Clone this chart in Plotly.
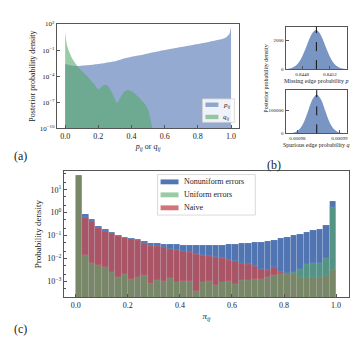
import numpy as np
import plotly.graph_objects as go

SERIF = "Liberation Serif"
BLUE = "#4c72b0"
GREEN = "#55a868"
RED = "#c44e52"
GRAY = "#555555"
W, H = 360, 337

# ---- panel (a): posterior densities of p_ij / q_ij (log scale)
a_p_x = [0.0, 0.03, 0.06, 0.1, 0.15, 0.2, 0.25, 0.3, 0.35, 0.4, 0.45, 0.5, 0.55,
         0.6, 0.65, 0.7, 0.75, 0.8, 0.85, 0.9, 0.95, 0.97, 0.99, 1.0]
a_p_y = [2.5e-3, 1.8e-3, 1.5e-3, 1.6e-3, 1.9e-3, 2.5e-3, 3.5e-3, 5e-3, 1e-2,
         1.7e-2, 2.5e-2, 4e-2, 6.3e-2, 0.1, 0.15, 0.22, 0.33, 0.5, 0.76, 1.2,
         2.0, 2.8, 7.0, 50.0]
a_q_x = [0.0, 0.005, 0.01, 0.02, 0.04, 0.06, 0.08, 0.1, 0.14, 0.18, 0.2, 0.22,
         0.243, 0.265, 0.29, 0.313, 0.335, 0.36, 0.38, 0.41, 0.45, 0.48, 0.5,
         0.515, 0.525]
a_q_y = [14.0, 2.0, 0.4, 0.1, 1.3e-2, 3.2e-3, 1e-3, 4e-4, 7e-5, 9e-6, 2.8e-6,
         6.3e-6, 1e-5, 5e-6, 6.3e-7, 8e-8, 4e-7, 1.8e-6, 2.5e-6, 1.4e-6, 2.8e-7,
         6.3e-8, 1.3e-8, 1e-9, 1e-10]
A_FLOOR = 1e-10

# ---- panel (b): posterior of p and q
b_p_x = [0.84456, 0.84460, 0.84465, 0.84470, 0.84475, 0.84480, 0.84485, 0.84490,
         0.84495, 0.84500, 0.84505, 0.84510, 0.84515, 0.84520, 0.84525, 0.84530,
         0.84535, 0.84540, 0.84545]
b_p_y = [10, 30, 85, 215, 470, 890, 1450, 2070, 2560, 2750, 2560, 2070, 1450,
         890, 470, 215, 85, 30, 10]
b_p_mean = 0.845006
b_q_x = [0.9776e-3, 0.9786e-3, 0.9796e-3, 0.9806e-3, 0.9816e-3, 0.9826e-3,
         0.9836e-3, 0.9846e-3, 0.9856e-3, 0.9866e-3, 0.9876e-3, 0.9886e-3,
         0.9896e-3, 0.9906e-3, 0.9916e-3]
b_q_y = [235, 1360, 5950, 19900, 50800, 99400, 148600, 170000, 148600, 99400,
         50800, 19900, 5950, 1360, 235]
b_q_mean = 0.9846e-3

# ---- panel (c): histograms of pi_ij, 40 bins on [0, 1]
BIN_W = 0.025
c_bins = np.arange(40) * BIN_W + BIN_W / 2
c_nonuniform = [42, 0.83, 0.51, 0.26, 0.19, 0.14, 0.107, 0.085, 0.078, 0.069,
                0.055, 0.047, 0.045, 0.043, 0.042, 0.041, 0.040, 0.039, 0.039,
                0.038, 0.039, 0.039, 0.040, 0.041, 0.043, 0.045, 0.047, 0.050,
                0.054, 0.059, 0.065, 0.074, 0.085, 0.100, 0.117, 0.138, 0.166,
                0.19, 0.30, 3.3]
c_naive = [40, 0.65, 0.44, 0.22, 0.16, 0.123, 0.091, 0.074, 0.068, 0.062,
           0.046, 0.034, 0.035, 0.030, 0.026, 0.023, 0.021, 0.019, 0.016,
           0.014, 0.0126, 0.0112, 0.010, 0.0089, 0.0076, 0.0066, 0.0056,
           0.0048, 0.0035, 0.0032, 0.0042, 0.0025, 0.0024, 0.0020, 0.0016,
           0.0014, 0.0016, 0.0016, 0.0018, 0.003]
c_uniform = [42, 0.0138, 0.0066, 0.0052, 0.0041, 0.0025, 0.0016, 0.0021,
             0.0013, 0.0015, 0.0019, 0.00087, 0.0011, 0.0010, 0.0014, 0.0009,
             0.00105, 0.0010, 0.00037, 0.00095, 0.0010, 0.00068, 0.0009,
             0.0010, 0.0008, 0.0011, 0.0011, 0.0013, 0.00126, 0.0016, 0.0018,
             0.0020, 0.0021, 0.0025, 0.0035, 0.0056, 0.006, 0.0063, 0.010, 1.8]


def rgba(hex_color, a):
    h = hex_color.lstrip("#")
    return "rgba(%d,%d,%d,%s)" % (int(h[0:2], 16), int(h[2:4], 16), int(h[4:6], 16), a)


fig = go.Figure()

# (a)
fig.add_trace(go.Scatter(x=[a_p_x[0], a_p_x[-1]], y=[A_FLOOR, A_FLOOR], mode="lines",
                         line=dict(width=0), showlegend=False, hoverinfo="skip",
                         xaxis="x", yaxis="y"))
fig.add_trace(go.Scatter(x=a_p_x, y=a_p_y, mode="lines", line=dict(width=0, shape="spline", smoothing=0.5),
                         fill="tonexty", fillcolor=rgba(BLUE, 0.6), showlegend=False,
                         name="p_ij", xaxis="x", yaxis="y"))
fig.add_trace(go.Scatter(x=[a_q_x[0], a_q_x[-1]], y=[A_FLOOR, A_FLOOR], mode="lines",
                         line=dict(width=0), showlegend=False, hoverinfo="skip",
                         xaxis="x", yaxis="y"))
fig.add_trace(go.Scatter(x=a_q_x, y=a_q_y, mode="lines", line=dict(width=0, shape="spline", smoothing=0.5),
                         fill="tonexty", fillcolor=rgba(GREEN, 0.6), showlegend=False,
                         name="q_ij", xaxis="x", yaxis="y"))

# (b)
fig.add_trace(go.Scatter(x=b_p_x, y=b_p_y, mode="lines", line=dict(width=0, shape="spline"),
                         fill="tozeroy", fillcolor=rgba(BLUE, 0.75), showlegend=False,
                         xaxis="x2", yaxis="y2"))
fig.add_trace(go.Scatter(x=b_q_x, y=b_q_y, mode="lines", line=dict(width=0, shape="spline"),
                         fill="tozeroy", fillcolor=rgba(BLUE, 0.75), showlegend=False,
                         xaxis="x3", yaxis="y3"))
fig.add_shape(type="line", xref="x2", yref="y2 domain", x0=b_p_mean, x1=b_p_mean, y0=0, y1=1,
              line=dict(color="#111", width=1, dash="dash"))
fig.add_shape(type="line", xref="x3", yref="y3 domain", x0=b_q_mean, x1=b_q_mean, y0=0, y1=1,
              line=dict(color="#111", width=1, dash="dash"))

# (c)
c_series = [("Nonuniform errors", c_nonuniform, BLUE, 0.97),
            ("Naive", c_naive, RED, 0.78),
            ("Uniform errors", c_uniform, GREEN, 0.6)]
for name, vals, col, op in c_series:
    fig.add_trace(go.Bar(x=c_bins, y=vals, width=BIN_W, name=name, showlegend=False,
                         marker=dict(color=col, line=dict(width=0.4, color="rgba(255,255,255,0.35)")),
                         opacity=op, xaxis="x4", yaxis="y4"))


# compact matplotlib-like legends (plotly's own legend rows are too tall here)
def legend_box(x0, y0, x1, y1, entries, sw, font_size, row_h, first_y, sw_h):
    fig.add_shape(type="rect", xref="paper", yref="paper", layer="above",
                  x0=x0 / W, x1=x1 / W, y0=1 - y1 / H, y1=1 - y0 / H,
                  fillcolor="rgba(255,255,255,0.85)", line=dict(color="#d0d0d0", width=0.8))
    for i, (label, color) in enumerate(entries):
        yc = first_y + i * row_h
        fig.add_shape(type="rect", xref="paper", yref="paper", layer="above",
                      x0=(x0 + 3) / W, x1=(x0 + 3 + sw) / W,
                      y0=1 - (yc + sw_h / 2) / H, y1=1 - (yc - sw_h / 2) / H,
                      fillcolor=color, line=dict(width=0))
        fig.add_annotation(text=label, xref="paper", yref="paper", x=(x0 + 6 + sw) / W, y=1 - yc / H,
                           xanchor="left", yanchor="middle", showarrow=False,
                           font=dict(family=SERIF, size=font_size, color="#222"))


legend_box(195, 89, 227, 113,
           [("<i>p<sub>ij</sub></i>", rgba(BLUE, 0.6)), ("<i>q<sub>ij</sub></i>", rgba(GREEN, 0.6))],
           sw=13, font_size=7, row_h=12.5, first_y=95, sw_h=4.5)
legend_box(150, 166.5, 248, 208,
           [("Nonuniform errors", rgba(BLUE, 0.97)), ("Uniform errors", rgba(GREEN, 0.6)),
            ("Naive", rgba(RED, 0.78))],
           sw=18, font_size=8, row_h=13.3, first_y=174, sw_h=5)

tick_font = dict(family=SERIF, size=8, color="#222")
small_font = dict(family=SERIF, size=5, color="#222")
box = dict(showline=True, mirror=True, linecolor=GRAY, linewidth=1, showgrid=False,
           zeroline=False, ticks="inside", ticklen=3, tickcolor=GRAY)

fig.update_layout(
    width=W, height=H, margin=dict(l=0, r=0, t=0, b=0),
    paper_bgcolor="white", plot_bgcolor="white", showlegend=False,
    font=dict(family=SERIF, size=8, color="#222"),
    barmode="overlay", bargap=0,
    xaxis=dict(domain=[0.1361, 0.6444], anchor="y", range=[-0.05, 1.05],
               tickvals=[0, 0.2, 0.4, 0.6, 0.8, 1.0], ticktext=["0.0", "0.2", "0.4", "0.6", "0.8", "1.0"],
               tickfont=tick_font, title=dict(text="<i>p<sub>ij</sub></i> or <i>q<sub>ij</sub></i>",
                                              font=dict(family=SERIF, size=8), standoff=3), **box),
    yaxis=dict(domain=[0.6469, 0.9635], anchor="x", type="log", range=[-10, 2],
               tickvals=[1e2, 1e-1, 1e-4, 1e-7, 1e-10],
               ticktext=["10<sup>2</sup>", "10<sup>−1</sup>", "10<sup>−4</sup>", "10<sup>−7</sup>", "10<sup>−10</sup>"],
               tickfont=dict(family=SERIF, size=7, color="#222"),
               title=dict(text="Posterior probability density", font=dict(family=SERIF, size=8), standoff=2),
               **box),
    xaxis2=dict(domain=[0.7731, 0.9444], anchor="y2", range=[0.844559, 0.84545],
                tickvals=[0.8448, 0.8452], ticktext=["0.8448", "0.8452"], tickfont=small_font,
                title=dict(text="Missing edge probability <i>p</i>", font=dict(family=SERIF, size=6), standoff=2),
                **box),
    yaxis2=dict(domain=[0.8264, 0.9555], anchor="x2", range=[0, 2980],
                tickvals=[0, 2000], ticktext=["0", "2000"], tickfont=small_font, **box),
    xaxis3=dict(domain=[0.7731, 0.9444], anchor="y3", range=[0.9772e-3, 0.9918e-3],
                tickvals=[0.98e-3, 0.99e-3], ticktext=["0.00098", "0.00099"], tickfont=small_font,
                title=dict(text="Spurious edge probability <i>q</i>", font=dict(family=SERIF, size=6), standoff=2),
                **box),
    yaxis3=dict(domain=[0.6312, 0.7626], anchor="x3", range=[0, 189000],
                tickvals=[0, 100000], ticktext=["0", "100000"], tickfont=small_font, **box),
    xaxis4=dict(domain=[0.1556, 0.95], anchor="y4", range=[-0.046, 1.05],
                tickvals=[0, 0.2, 0.4, 0.6, 0.8, 1.0], ticktext=["0.0", "0.2", "0.4", "0.6", "0.8", "1.0"],
                tickfont=dict(family=SERIF, size=8, color="#222"),
                title=dict(text="<i>π<sub>ij</sub></i>", font=dict(family=SERIF, size=9), standoff=4), **box),
    yaxis4=dict(domain=[0.1335, 0.5163], anchor="x4", type="log", range=[-3.68, 1.81],
                tickvals=[10, 1, 0.1, 0.01, 0.001],
                ticktext=["10<sup>1</sup>", "10<sup>0</sup>", "10<sup>−1</sup>", "10<sup>−2</sup>", "10<sup>−3</sup>"],
                tickfont=dict(family=SERIF, size=8, color="#222"),
                minor=dict(ticks="inside", ticklen=2, tickcolor=GRAY, showgrid=False),
                title=dict(text="Probability density", font=dict(family=SERIF, size=9), standoff=4),
                **box),
)

fig.add_annotation(text="Posterior probability density", textangle=-90, xref="paper", yref="paper",
                   x=259 / W, y=1 - 68 / H, xanchor="center", yanchor="middle", showarrow=False,
                   font=dict(family=SERIF, size=6))
for lab, x, y in [("(a)", 13, 147), ("(b)", 267, 157), ("(c)", 13, 325)]:
    fig.add_annotation(text=lab, xref="paper", yref="paper", x=x / W, y=1 - y / H,
                       xanchor="center", yanchor="middle", showarrow=False,
                       font=dict(family=SERIF, size=12))

fig.write_html("out.html")
